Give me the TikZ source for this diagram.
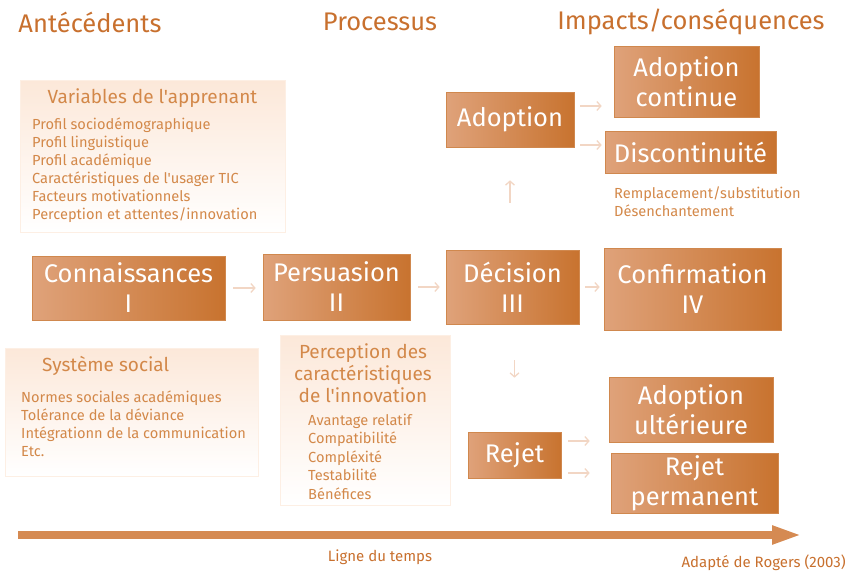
\documentclass[tikz,border=0pt]{standalone}
\usepackage{fontspec}
\setmainfont{Fira Sans}[Ligatures=TeXOff]
\usetikzlibrary{arrows.meta}
\definecolor{ttl}{HTML}{C8702E}
\definecolor{obL}{HTML}{DFA27A}
\definecolor{obD}{HTML}{C8732F}
\definecolor{lt}{HTML}{D38849}
\definecolor{arr}{HTML}{F2D6C4}
\definecolor{pk}{HTML}{FCE8D9}
\definecolor{tl}{HTML}{D58A52}
\tikzset{
  obox/.style={rectangle, left color=obL, right color=obD, draw=obD!85!white,
    line width=0.6pt, text=white, align=center, inner sep=0pt,
    font=\fontsize{25.5}{30}\selectfont},
  lbox/.style={rectangle, top color=pk, bottom color=white, draw=pk!70!white,
    line width=0.6pt, inner sep=0pt},
  ttlnode/.style={text=ttl, inner sep=0pt, font=\fontsize{25.5}{28}\selectfont},
  head/.style={text=lt, inner sep=0pt, font=\fontsize{19}{22}\selectfont},
  item/.style={text=lt, inner sep=0pt, font=\fontsize{14.6}{18}\selectfont},
  conn/.style={draw=arr, line width=1.3pt, -{Straight Barb[length=4pt,width=9pt]}},
}
\begin{document}
\begin{tikzpicture}[x=1pt,y=-1pt]
\useasboundingbox (0,0) rectangle (847,571);
% titles
\node[ttlnode] (tA) at (90,22) {Antécédents};
\node[ttlnode] (tP) at (380,22) {Processus};
\node[ttlnode] (tI) at (691,22) {Impacts/conséquences};
% light boxes
\node[lbox, minimum width=265, minimum height=152] (vbox) at (152.5,156) {};
\node[head] (vh) at (152.5,98) {Variables de l'apprenant};
\foreach \t [count=\i] in {Profil sociodémographique, Profil linguistique, Profil académique, Caractéristiques de l'usager TIC, Facteurs motivationnels, Perception et attentes/innovation}
  \node[item, anchor=base west] (v\i) at (32,{129+18*(\i-1)}) {\t};
\node[lbox, minimum width=253, minimum height=128] (sbox) at (131.5,412) {};
\node[head, anchor=base west] (sh) at (42,371) {Système social};
\foreach \t [count=\i] in {Normes sociales académiques, Tolérance de la déviance, Intégrationn de la communication, Etc.}
  \node[item, anchor=base west] (s\i) at (21,{402+18*(\i-1)}) {\t};
\node[lbox, minimum width=170, minimum height=170] (pbox) at (365,420) {};
\node[head, align=center, font=\fontsize{19}{22}\selectfont] (ph) at (363,373) {Perception des\\caractéristiques\\de l'innovation};
\foreach \t [count=\i] in {Avantage relatif, Compatibilité, Compléxité, Testabilité, Bénéfices}
  \node[item, anchor=base west] (p\i) at (308,{425+18.5*(\i-1)}) {\t};
% orange boxes
\node[obox, minimum width=193, minimum height=64] (conn) at (128.5,288) {Connaissances\\I};
\node[obox, minimum width=147, minimum height=66] (pers) at (336.5,287) {Persuasion\\II};
\node[obox, minimum width=133, minimum height=74] (dec) at (512.5,287) {Décision\\III};
\node[obox, minimum width=177, minimum height=82] (conf) at (692.5,289) {Confirmation\\IV};
\node[obox, minimum width=128, minimum height=55] (adopt) at (510,119.5) {Adoption};
\node[obox, minimum width=145, minimum height=71] (acont) at (686.5,81.5) {Adoption\\continue};
\node[obox, minimum width=171, minimum height=42] (disc) at (690.5,152) {Discontinuité};
\node[obox, minimum width=93, minimum height=46] (rej) at (514.5,455) {Rejet};
\node[obox, minimum width=164, minimum height=65] (aul) at (691,409.5) {Adoption\\ultérieure};
\node[obox, minimum width=167, minimum height=60, font=\fontsize{25.5}{30}\selectfont] (rperm) at (694.5,483) {Rejet\\permanent};
\node[item, anchor=base west] (r1) at (614,198) {Remplacement/substitution};
\node[item, anchor=base west] (r2) at (614,216) {Désenchantement};
% connectors
\draw[conn, shorten <=8pt, shorten >=7pt] (conn.east) -- (conn.east -| pers.west);
\draw[conn, shorten <=8pt, shorten >=6pt] (pers.east) -- (pers.east -| dec.west);
\draw[conn, shorten <=6pt, shorten >=4pt] (dec.east) -- (dec.east -| conf.west);
\draw[conn, shorten <=47pt, shorten >=33pt] (adopt.south |- dec.north) -- (adopt.south);
\draw[conn, shorten <=36pt, shorten >=54pt] (rej.north |- dec.south) -- (rej.north);
\draw[conn, shorten <=6pt, shorten >=12pt] ([yshift=13.5pt]adopt.east) -- ([yshift=13.5pt]adopt.east -| acont.west);
\draw[conn, shorten <=6pt, shorten >=3pt] ([yshift=-25.5pt]adopt.east) -- ([yshift=-25.5pt]adopt.east -| disc.west);
\draw[conn, shorten <=7pt, shorten >=19pt] ([yshift=14pt]rej.east) -- ([yshift=14pt]rej.east -| aul.west);
\draw[conn, shorten <=7pt, shorten >=21pt] ([yshift=-18pt]rej.east) -- ([yshift=-18pt]rej.east -| rperm.west);
% timeline
\coordinate (tl0) at (18,535);
\coordinate (tl1) at (802,535);
\draw[draw=tl, line width=8pt, -{Triangle[length=30pt,width=17pt]}] (tl0) -- (tl1);
\node[item, font=\fontsize{15}{18}\selectfont, text=ttl] (ltemps) at (380,557) {Ligne du temps};
\node[item, font=\fontsize{15}{18}\selectfont, text=ttl, anchor=east] (rog) at (846,563) {Adapté de Rogers (2003)};
\end{tikzpicture}
\end{document}
